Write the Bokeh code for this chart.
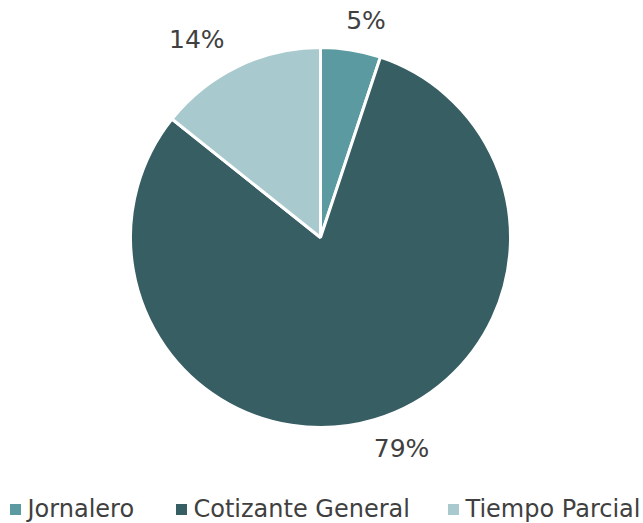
import math
from bokeh.plotting import figure
from bokeh.models import ColumnDataSource
from bokeh.core.properties import value
from bokeh.embed import file_html
from bokeh.resources import INLINE

# ---- data ----
categories = ["Jornalero", "Cotizante General", "Tiempo Parcial"]
values = [5, 79, 14]
colors = ["#5B9AA0", "#375E63", "#A8C9CD"]

# ---- layout ----
W, H = 643, 523
cx, cy, R = 320, 286, 190
label_rx, label_ry = 285, 220
legend_x = [15, 181, 453]
legend_y = 15
font = "DejaVu Sans"
text_color = "#404040"

total = sum(values)
starts, ends, lx, ly, labels = [], [], [], [], []
acc = 0.0
for v in values:
    a0 = math.pi / 2 - 2 * math.pi * acc / total
    acc += v
    a1 = math.pi / 2 - 2 * math.pi * acc / total
    starts.append(a0)
    ends.append(a1)
    mid = (a0 + a1) / 2
    lx.append(cx + label_rx * math.cos(mid))
    ly.append(cy + label_ry * math.sin(mid))
    labels.append(f"{v}%")

src = ColumnDataSource(dict(start=starts, end=ends, color=colors, cat=categories))

p = figure(width=W, height=H, x_range=(0, W), y_range=(0, H),
           output_backend="svg", toolbar_location=None, min_border=0,
           outline_line_color=None)
p.axis.visible = False
p.grid.visible = False
p.background_fill_color = "white"
p.border_fill_color = "white"

p.wedge(x=cx, y=cy, radius=R, start_angle="start", end_angle="end",
        direction="clock", fill_color="color", line_color="white",
        line_width=3, source=src)

p.text(x=lx, y=ly, text=labels, text_font=value(font), text_font_size="25px",
       text_color=text_color, text_align="center", text_baseline="middle")

p.scatter(x=legend_x, y=[legend_y - 1] * 3, marker="square", size=11,
          fill_color=colors, line_color=None)
p.text(x=[x + 12 for x in legend_x], y=[legend_y] * 3, text=categories,
       text_font=value(font), text_font_size="24px", text_color=text_color,
       text_align="left", text_baseline="middle")

open("out.html", "w").write(file_html(p, INLINE))
